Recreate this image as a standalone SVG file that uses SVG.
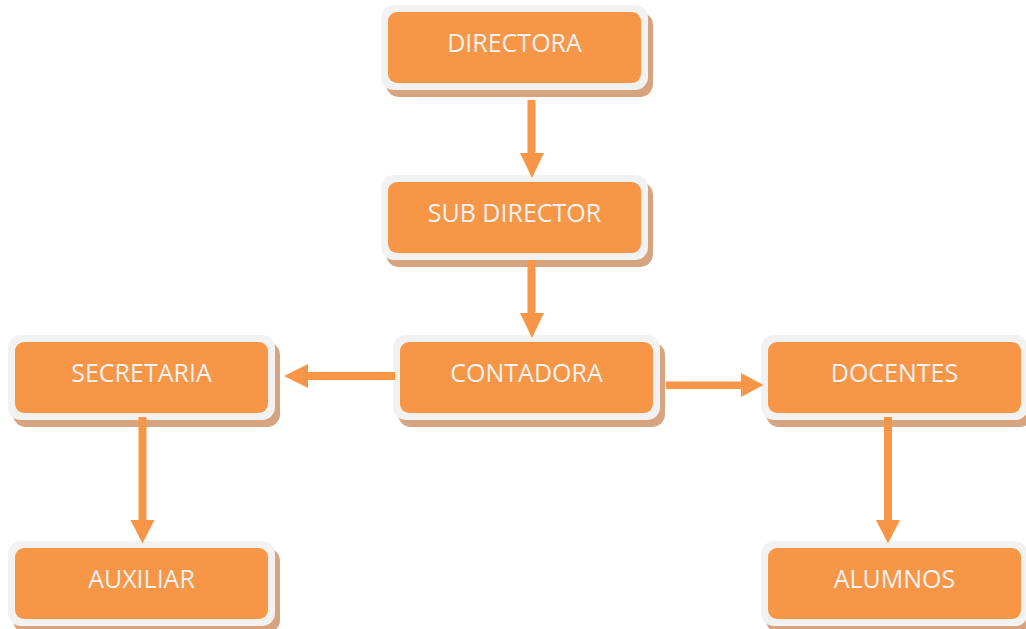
<svg xmlns="http://www.w3.org/2000/svg" width="1026" height="629" viewBox="0 0 1026 629">
  <style>
    .shadow { fill: #D6A47F; }
    .frame { fill: #F2F2F2; }
    .box { fill: #F79646; }
    .label { font-family: "Open Sans", "Liberation Sans", sans-serif; font-size: 25px; fill: #F2F2F2; text-anchor: middle; }
    .arrow { fill: #F79646; }
  </style>
  <rect width="1026" height="629" fill="#FFFFFF"/>

  <g id="directora">
    <rect class="shadow" x="386" y="12" width="267" height="85" rx="13"/>
    <rect class="frame" x="381" y="5" width="267" height="85" rx="13"/>
    <rect class="box" x="388" y="12" width="253" height="71" rx="9"/>
    <text class="label" x="514.5" y="52">DIRECTORA</text>
  </g>

  <g id="subdirector">
    <rect class="shadow" x="386" y="182" width="267" height="85" rx="13"/>
    <rect class="frame" x="381" y="175" width="267" height="85" rx="13"/>
    <rect class="box" x="388" y="182" width="253" height="71" rx="9"/>
    <text class="label" x="514.5" y="222">SUB DIRECTOR</text>
  </g>

  <g id="contadora">
    <rect class="shadow" x="398" y="342" width="267" height="85" rx="13"/>
    <rect class="frame" x="393" y="335" width="267" height="85" rx="13"/>
    <rect class="box" x="400" y="342" width="253" height="71" rx="9"/>
    <text class="label" x="526.5" y="382">CONTADORA</text>
  </g>

  <g id="secretaria">
    <rect class="shadow" x="13" y="342" width="267" height="85" rx="13"/>
    <rect class="frame" x="8" y="335" width="267" height="85" rx="13"/>
    <rect class="box" x="15" y="342" width="253" height="71" rx="9"/>
    <text class="label" x="141.5" y="382">SECRETARIA</text>
  </g>

  <g id="docentes">
    <rect class="shadow" x="766" y="342" width="267" height="85" rx="13"/>
    <rect class="frame" x="761" y="335" width="267" height="85" rx="13"/>
    <rect class="box" x="768" y="342" width="253" height="71" rx="9"/>
    <text class="label" x="894.5" y="382">DOCENTES</text>
  </g>

  <g id="auxiliar">
    <rect class="shadow" x="13" y="548" width="267" height="85" rx="13"/>
    <rect class="frame" x="8" y="541" width="267" height="85" rx="13"/>
    <rect class="box" x="15" y="548" width="253" height="71" rx="9"/>
    <text class="label" x="141.5" y="588">AUXILIAR</text>
  </g>

  <g id="alumnos">
    <rect class="shadow" x="766" y="548" width="267" height="85" rx="13"/>
    <rect class="frame" x="761" y="541" width="267" height="85" rx="13"/>
    <rect class="box" x="768" y="548" width="253" height="71" rx="9"/>
    <text class="label" x="894.5" y="588">ALUMNOS</text>
  </g>

  <g id="connectors">
    <polygon class="arrow" points="527.5,100 535.5,100 535.5,153 544,153 532,178 520,153 527.5,153"/>
    <polygon class="arrow" points="527.5,260 535.5,260 535.5,313 544,313 532,338 520,313 527.5,313"/>
    <polygon class="arrow" points="395,372 395,380 308,380 308,388 284,376 308,364 308,372"/>
    <polygon class="arrow" points="666,381.5 741,381.5 741,373 763.5,385 741,397 741,389 666,389"/>
    <polygon class="arrow" points="138.5,417 146.5,417 146.5,520 154.5,520 142.5,543.5 130.5,520 138.5,520"/>
    <polygon class="arrow" points="884,417 892,417 892,520 900,520 888,543.5 876,520 884,520"/>
  </g>
</svg>
